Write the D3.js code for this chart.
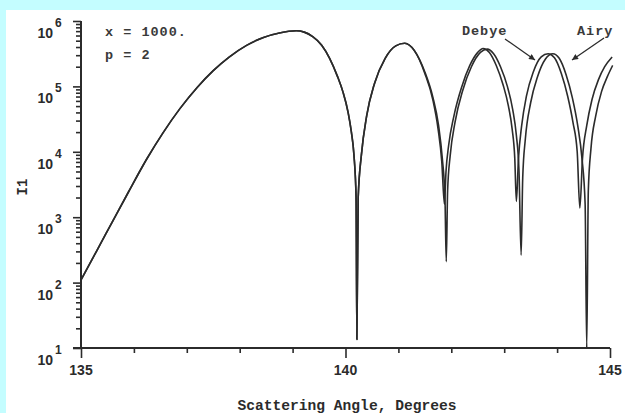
<!DOCTYPE html>
<html>
<head>
<meta charset="utf-8">
<script src="https://cdn.jsdelivr.net/npm/d3@7"></script>
<style>
  html, body { margin: 0; padding: 0; background: #c4fdff; }
  svg { display: block; }
</style>
</head>
<body>
<svg id="chart" width="625" height="413"></svg>
<script>
// ---- Data ----
const debyeAngle = [135.00,135.30,135.60,135.90,136.24,136.55,136.87,137.20,137.50,137.80,138.13,138.45,138.75,139.07,139.22,139.38,139.55,139.70,139.85,139.95,140.05,140.11,140.16,140.20,140.215,140.24,140.30,140.40,140.55,140.75,140.95,141.12,141.30,141.50,141.65,141.75,141.82,141.87,141.90,141.95,142.05,142.20,142.35,142.50,142.60,142.72,142.85,142.98,143.08,143.15,143.20,143.23,143.27,143.33,143.42,143.55,143.70,143.83,143.95,144.08,144.20,144.30,144.38,144.43,144.48,144.56,144.66,144.78,144.90,145.04];
const debyeI = [110,309,871,2450,7690,19500,45700,97200,174000,281000,424000,561000,656000,708000,676000,575000,427000,269000,141000,83200,39800,20400,8910,2000,13.5,2000,8910,35500,112000,269000,417000,457000,355000,158000,63100,22400,7080,1580,5010,12600,35500,100000,209000,331000,380000,331000,209000,105000,50100,22400,7940,1740,7940,25100,70800,166000,282000,316000,275000,158000,70800,28200,10000,1380,7940,25100,63100,126000,200000,282000];

const airyAngle = [135.00,135.30,135.60,135.90,136.24,136.55,136.87,137.20,137.50,137.80,138.13,138.45,138.75,139.07,139.22,139.38,139.55,139.70,139.85,139.95,140.05,140.11,140.16,140.20,140.215,140.24,140.30,140.40,140.55,140.75,140.95,141.12,141.30,141.50,141.65,141.76,141.83,141.88,141.905,141.93,141.98,142.07,142.22,142.38,142.55,142.68,142.80,142.93,143.06,143.16,143.23,143.28,143.32,143.35,143.40,143.50,143.63,143.78,143.92,144.04,144.17,144.29,144.39,144.47,144.53,144.56,144.59,144.64,144.73,144.84,144.95,145.05];
const airyI = [110,309,871,2450,7690,19500,45700,97200,174000,281000,424000,561000,656000,708000,676000,575000,427000,269000,141000,83200,39800,20400,8910,2000,13.5,2000,8910,35500,112000,269000,417000,457000,355000,166000,69200,25100,7940,2000,209,2510,8910,28200,89100,200000,331000,372000,316000,200000,100000,44700,17800,5010,263,3980,15800,56200,141000,263000,316000,269000,151000,66100,25100,7940,1580,10,2510,11200,35500,83200,141000,209000];

const xTickValues = [135,136,137,138,139,140,141,142,143,144,145];
const xTickLabels = ["135","140","145"];
const yDecades = [10,100,1000,10000,100000,1000000];
const yDecadeExponents = ["1","2","3","4","5","6"];

const notes = [
  {text: "x = 1000.", angle: 135.454, I: 590000},
  {text: "p = 2",     angle: 135.454, I: 262000},
  {text: "Debye",     angle: 142.20,  I: 611000},
  {text: "Airy",      angle: 144.376, I: 611000}
];
const arrows = [
  {a0: 143.015, I0: 531000, a1: 143.582, I1: 254000},
  {a0: 144.887, I0: 550000, a1: 144.282, I1: 254000}
];

// ---- Drawing ----
const svg = d3.select("#chart");
const ink = "#2b2b2b";
const mono = "'Liberation Mono', 'DejaVu Sans Mono', monospace";
const sans = "'Liberation Sans', Arial, sans-serif";

svg.append("rect").attr("x",0).attr("y",0).attr("width",625).attr("height",413).attr("fill","#c4fdff");
svg.append("rect").attr("x",6).attr("y",10).attr("width",619).attr("height",403).attr("fill","#ffffff");

const x = d3.scaleLinear().domain([135,145]).range([81,610]);
const y = d3.scaleLog().domain([10,1e6]).range([348,21]);

// defs: arrow marker
svg.append("defs").append("marker")
  .attr("id","ah").attr("viewBox","0 0 10 10").attr("refX",10).attr("refY",5)
  .attr("markerWidth",7).attr("markerHeight",6).attr("markerUnits","userSpaceOnUse")
  .attr("orient","auto")
  .append("path").attr("d","M0,0 L10,5 L0,10 z").attr("fill",ink);

// Y axis
const yAxisG = svg.append("g").attr("transform","translate(81,0)")
  .call(d3.axisLeft(y).tickValues(y.ticks()).tickFormat("").tickSizeOuter(0));
yAxisG.select(".domain").attr("stroke",ink).attr("stroke-width",2).attr("d","M0,348V21");
yAxisG.selectAll(".tick line").attr("stroke",ink).attr("stroke-width",1.6)
  .attr("x2", d => Math.abs(Math.log10(d) - Math.round(Math.log10(d))) < 1e-9 ? -8 : -5);

// Y labels 10^n
yDecades.forEach((v,i) => {
  svg.append("text").attr("x",53).attr("y",y(v)+17)
    .attr("text-anchor","end").attr("font-family",sans).attr("font-weight","bold")
    .attr("font-size",14).attr("fill",ink).text("10");
  svg.append("text").attr("x",55).attr("y",y(v)+6)
    .attr("font-family",sans).attr("font-weight","bold")
    .attr("font-size",12).attr("fill",ink).text(yDecadeExponents[i]);
});

// X axis
const xAxisG = svg.append("g").attr("transform","translate(0,348)")
  .call(d3.axisBottom(x).tickValues(xTickValues).tickFormat("").tickSizeOuter(0));
xAxisG.select(".domain").attr("stroke",ink).attr("stroke-width",2).attr("d","M73,0H610");
xAxisG.selectAll(".tick line").attr("stroke",ink).attr("stroke-width",1.6)
  .attr("y2", d => d % 5 === 0 ? 10 : 5);
[135,140,145].forEach((v,i) => {
  svg.append("text").attr("x",x(v)).attr("y",375).attr("text-anchor","middle")
    .attr("font-family",sans).attr("font-weight","bold").attr("font-size",14)
    .attr("fill",ink).text(xTickLabels[i]);
});

// Axis titles
svg.append("text").attr("x",347).attr("y",410).attr("text-anchor","middle")
  .attr("font-family",mono).attr("font-weight","bold").attr("font-size",14.6)
  .attr("fill",ink).text("Scattering Angle, Degrees");
svg.append("text").attr("transform","translate(27,187) rotate(-90)").attr("text-anchor","middle")
  .attr("font-family",mono).attr("font-weight","bold").attr("font-size",14)
  .attr("fill",ink).text("I1");

// Curves
const line = d3.line().x(d => x(d[0])).y(d => y(d[1])).curve(d3.curveMonotoneX);
const debye = debyeAngle.map((a,i) => [a, debyeI[i]]);
const airy = airyAngle.map((a,i) => [a, airyI[i]]);
svg.append("path").datum(airy).attr("d",line).attr("fill","none")
  .attr("stroke",ink).attr("stroke-width",1.6).attr("stroke-linejoin","round");
svg.append("path").datum(debye).attr("d",line).attr("fill","none")
  .attr("stroke",ink).attr("stroke-width",1.6).attr("stroke-linejoin","round");

// Annotations
notes.forEach(n => {
  svg.append("text").attr("x",x(n.angle)).attr("y",y(n.I))
    .attr("font-family",mono).attr("font-weight","bold").attr("font-size",13.5)
    .attr("letter-spacing",1).attr("fill","#3a3a3a").text(n.text);
});
arrows.forEach(a => {
  svg.append("line").attr("x1",x(a.a0)).attr("y1",y(a.I0)).attr("x2",x(a.a1)).attr("y2",y(a.I1))
    .attr("stroke",ink).attr("stroke-width",1.3).attr("marker-end","url(#ah)");
});
</script>
</body>
</html>
